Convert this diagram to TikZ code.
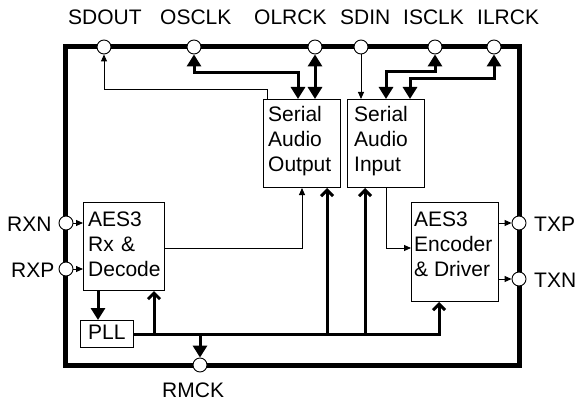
\documentclass[tikz,border=0pt]{standalone}
\usepackage{fontspec}
\setmainfont{Liberation Sans}
\usetikzlibrary{arrows.meta}
\tikzset{
  bigtip/.tip={Triangle[length=12pt,width=14pt]},
  smalltip/.tip={Triangle[length=7pt,width=6pt]},
  barbtip/.tip={Straight Barb[length=6pt,width=12pt]},
  pin/.style={circle, draw, fill=white, line width=0.9pt, minimum size=14pt, inner sep=0pt},
  blk/.style={draw, line width=1pt, inner sep=0pt, anchor=north west},
  lbl/.style={font=\fontsize{21}{25}\selectfont, inner sep=0pt, anchor=base west},
  btxt/.style={font=\fontsize{21}{25}\selectfont, inner sep=0pt, anchor=north west, align=left},
  thinc/.style={line width=0.9pt, -smalltip},
  thk/.style={line width=3pt},
  frame/.style={line width=5pt}
}
\begin{document}
\begin{tikzpicture}[x=1pt,y=-1pt]
\useasboundingbox (0,0) rectangle (577,401);
% outer frame
\draw[frame] (65,47) rectangle (519,365);
% blocks
\node[blk, minimum width=77pt, minimum height=88pt] (sao) at (263,99) {};
\node[blk, minimum width=77pt, minimum height=88pt] (sai) at (347,99) {};
\node[blk, minimum width=81pt, minimum height=88pt] (rx) at (83,202) {};
\node[blk, minimum width=53pt, minimum height=27pt] (pll) at (80,320) {};
\node[blk, minimum width=87pt, minimum height=99pt] (enc) at (411,202) {};
% block texts
\node[btxt] (saot) at (268,106) {Serial\\Audio\\Output};
\node[btxt] (sait) at (354,106) {Serial\\Audio\\Input};
\node[btxt] (rxt) at (88,212) {AES3\\Rx\ \kern1.5pt\&\\Decode};
\node[btxt] (pllt) at (88,325) {PLL};
\node[btxt] (enct) at (414,212) {AES3\\Encoder\\\& Driver};
% pins
\node[pin] (sdout) at (104,47) {};
\node[pin] (osclk) at (194,47) {};
\node[pin] (olrck) at (315,47) {};
\node[pin] (sdin) at (361,47) {};
\node[pin] (isclk) at (435,47) {};
\node[pin] (ilrck) at (494,47) {};
\node[pin] (rxn) at (66,223) {};
\node[pin] (rxp) at (66,269) {};
\node[pin] (txp) at (519,223) {};
\node[pin] (txn) at (519,279) {};
\node[pin] (rmck) at (200,365) {};
% pin labels
\node[lbl] (lsdout) at (68,25) {SDOUT};
\node[lbl] (losclk) at (160,25) {OSCLK};
\node[lbl] (lolrck) at (254,25) {OLRCK};
\node[lbl] (lsdin) at (340,25) {SDIN};
\node[lbl] (lisclk) at (403,25) {ISCLK};
\node[lbl] (lilrck) at (477,25) {ILRCK};
\node[lbl] (lrxn) at (7,231) {RXN};
\node[lbl] (lrxp) at (11,277) {RXP};
\node[lbl] (ltxp) at (534,231) {TXP};
\node[lbl] (ltxn) at (534,287) {TXN};
\node[lbl] (lrmck) at (162,397) {RMCK};
% top connectors
\draw[thinc] ([xshift=4pt]sao.north west) -- ++(0,-10) -| (sdout.south);
\draw[thk, bigtip-bigtip] (osclk.south) |- ([xshift=35pt,yshift=26pt]sao.north west) -- ([xshift=35pt]sao.north west);
\draw[thk, bigtip-bigtip] (olrck.south) -- (olrck |- sao.north);
\draw[thinc] (sdin.south) -- (sdin |- sai.north);
\draw[thk, bigtip-bigtip] (isclk.south) |- ([xshift=39pt,yshift=27pt]sai.north west) -- ([xshift=39pt]sai.north west);
\draw[thk, bigtip-bigtip] (ilrck.south) |- ([xshift=63pt,yshift=20pt]sai.north west) -- ([xshift=63pt]sai.north west);
% middle thin connectors
\draw[thinc] ([yshift=-46pt]rx.north east) -| ([xshift=39pt]sao.south west);
\draw[thinc] ([xshift=39pt]sai.south west) |- ([yshift=-46pt]enc.north west);
% side pins
\draw[thinc] (rxn.east) -- (rxn -| rx.west);
\draw[thinc] (rxp.east) -- (rxp -| rx.west);
\draw[thinc] (txp -| enc.east) -- (txp.west);
\draw[thinc] (txn -| enc.east) -- (txn.west);
% Rx to PLL
\draw[thk, -bigtip] ([xshift=15pt]rx.south west) -- ([xshift=15pt]rx.south west |- pll.north);
% clock bus
\draw[thk, -barbtip] (pll.east) -| ([xshift=28pt]enc.south west);
\draw[thk, -barbtip] ([xshift=-11pt]rx.south east |- pll.east) -- ([xshift=-11pt]rx.south east);
\draw[thk, -barbtip] ([xshift=64pt]sao.south west |- pll.east) -- ([xshift=64pt]sao.south west);
\draw[thk, -barbtip] ([xshift=18pt]sai.south west |- pll.east) -- ([xshift=18pt]sai.south west);
\draw[thk, -bigtip] (rmck |- pll.east) -- (rmck.north);
\end{tikzpicture}
\end{document}
